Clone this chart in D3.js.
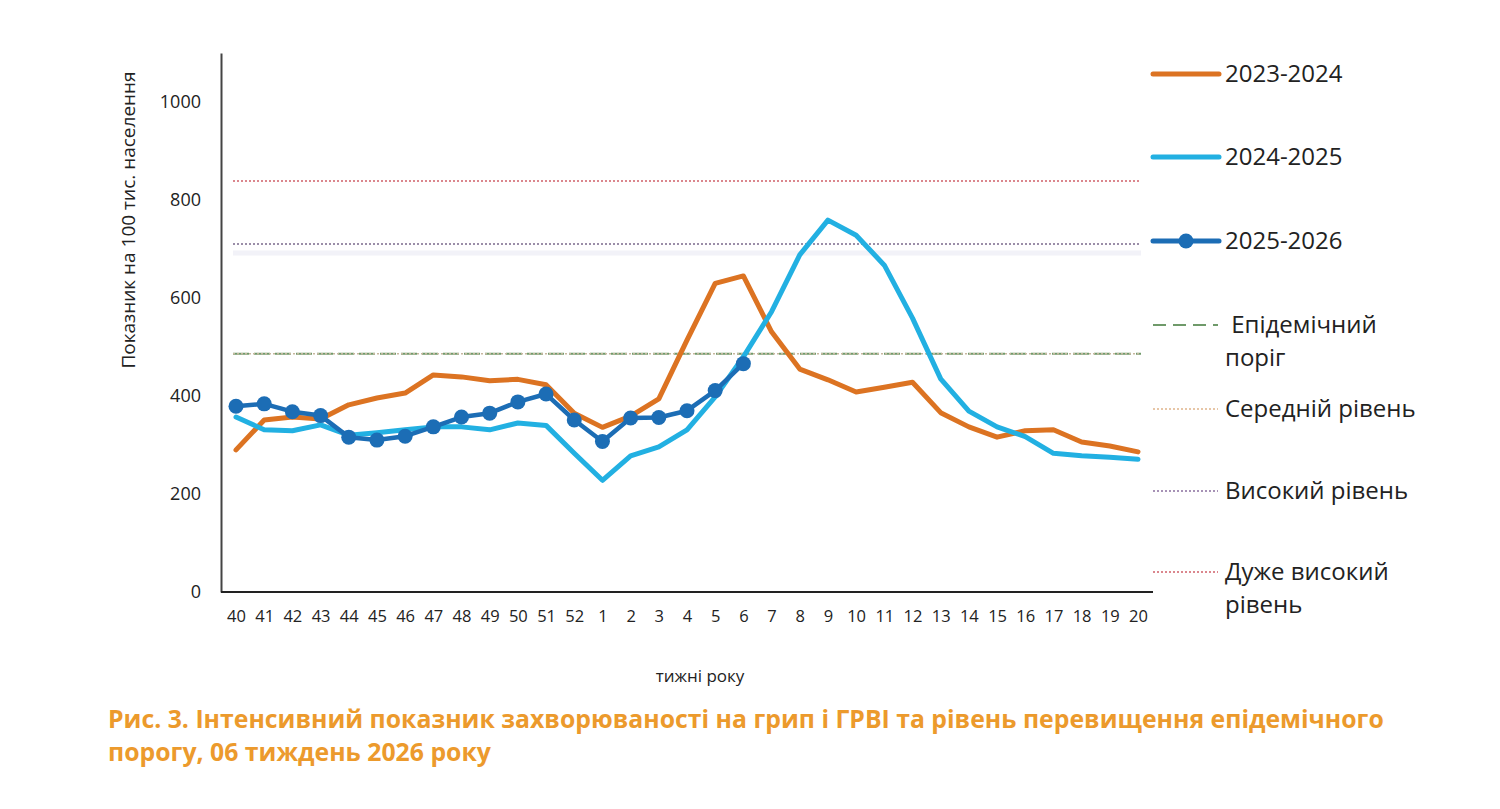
<!DOCTYPE html>
<html>
<head>
<meta charset="utf-8">
<script src="https://cdn.jsdelivr.net/npm/d3@7"></script>
<style>
  body { margin: 0; background: #fff; }
  svg { display: block; font-family: "Open Sans", "Noto Sans", sans-serif; }
</style>
</head>
<body>
<svg width="1500" height="809"></svg>
<script>
// weeks of the season
var weeks = ["40","41","42","43","44","45","46","47","48","49","50","51","52",
  "1","2","3","4","5","6","7","8","9","10","11","12","13","14","15","16","17","18","19","20"];

var s2023 = [290,351,357,353,382,396,406,443,439,431,434,423,365,336,359,394,514,630,645,531,455,433,408,418,428,366,337,316,329,331,306,298,286];
var s2024 = [357,331,329,341,320,325,331,337,337,331,345,340,283,228,278,296,331,398,480,572,688,759,728,667,559,435,369,337,317,283,278,275,271];
var s2025 = [379,384,368,360,316,310,318,337,357,365,388,404,351,307,355,356,370,411,466];

var yTicks = [0,200,400,600,800,1000];

// threshold levels
var levelEpid = 486;
var levelMid = 486;
var levelHigh = 710;
var levelVeryHigh = 839;

window.onload = function() {
  var svg = d3.select("svg");

  var x = d3.scalePoint().domain(weeks).range([236, 1138]);
  var y = d3.scaleLinear().domain([0, 1100]).range([592, 53]);

  // y axis
  var yAxis = svg.append("g")
    .attr("transform", "translate(221,0)")
    .call(d3.axisLeft(y).tickValues(yTicks).tickFormat(d3.format("d"))
      .tickSize(0).tickSizeOuter(0).tickPadding(20));
  yAxis.select(".domain").attr("stroke", "#444").attr("stroke-width", 2);
  yAxis.selectAll("text").attr("font-size", 18).attr("fill", "#222")
    .attr("font-family", "Open Sans, sans-serif");

  // x axis
  var xAxis = svg.append("g")
    .attr("transform", "translate(0,592)")
    .call(d3.axisBottom(x).tickSize(0).tickPadding(18));
  xAxis.select(".domain").remove();
  xAxis.selectAll("text").attr("font-size", 16.5).attr("fill", "#222")
    .attr("font-family", "Open Sans, sans-serif");
  svg.append("line")
    .attr("x1", 221).attr("x2", 1153)
    .attr("y1", 592).attr("y2", 592)
    .attr("stroke", "#222").attr("stroke-width", 2);

  // axis titles
  svg.append("text")
    .attr("transform", "translate(135," + 220 + ") rotate(-90)")
    .attr("text-anchor", "middle")
    .attr("font-size", 19).attr("fill", "#222")
    .text("Показник на 100 тис. населення");

  svg.append("text")
    .attr("x", 700).attr("y", 682)
    .attr("text-anchor", "middle")
    .attr("font-size", 17).attr("fill", "#222")
    .text("тижні року");

  // level lines
  var lx1 = 233, lx2 = 1141;
  svg.append("line")
    .attr("x1", lx1).attr("x2", lx2)
    .attr("y1", y(levelHigh) + 9).attr("y2", y(levelHigh) + 9)
    .attr("stroke", "#f2f2f8").attr("stroke-width", 5);
  var levels = [
    {v: levelEpid, color: "#6f9a6a", dash: "16,5", w: 2},
    {v: levelMid, color: "#c8b7a0", dash: "2,2", w: 1.5},
    {v: levelHigh, color: "#7b6a8c", dash: "2,2", w: 1.5},
    {v: levelVeryHigh, color: "#d0606a", dash: "2,2", w: 1.5}
  ];
  svg.append("g").selectAll("line")
    .data(levels)
    .enter().append("line")
    .attr("x1", lx1).attr("x2", lx2)
    .attr("y1", function(d) { return y(d.v); })
    .attr("y2", function(d) { return y(d.v); })
    .attr("stroke", function(d) { return d.color; })
    .attr("stroke-width", function(d) { return d.w; })
    .attr("stroke-dasharray", function(d) { return d.dash; });

  // series lines
  var line = d3.line()
    .x(function(d, i) { return x(weeks[i]); })
    .y(function(d) { return y(d); });

  var series = [
    {name: "2023-2024", values: s2023, color: "#dc7322", w: 5},
    {name: "2024-2025", values: s2024, color: "#22b0e2", w: 5},
    {name: "2025-2026", values: s2025, color: "#1c6db5", w: 4.5}
  ];

  svg.append("g").selectAll("path")
    .data(series)
    .enter().append("path")
    .attr("d", function(d) { return line(d.values); })
    .attr("fill", "none")
    .attr("stroke", function(d) { return d.color; })
    .attr("stroke-width", function(d) { return d.w; })
    .attr("stroke-linejoin", "round")
    .attr("stroke-linecap", "round");

  svg.append("g").selectAll("circle")
    .data(s2025)
    .enter().append("circle")
    .attr("cx", function(d, i) { return x(weeks[i]); })
    .attr("cy", function(d) { return y(d); })
    .attr("r", 7.5)
    .attr("fill", "#1c6db5");

  // legend
  var lg = svg.append("g").attr("font-size", 24).attr("fill", "#222");
  var legSeries = [
    {label: "2023-2024", color: "#dc7322", y: 74},
    {label: "2024-2025", color: "#22b0e2", y: 157},
    {label: "2025-2026", color: "#1c6db5", y: 241, marker: true}
  ];
  legSeries.forEach(function(d) {
    lg.append("line")
      .attr("x1", 1153).attr("x2", 1219)
      .attr("y1", d.y).attr("y2", d.y)
      .attr("stroke", d.color).attr("stroke-width", 5)
      .attr("stroke-linecap", "round");
    if (d.marker) {
      lg.append("circle").attr("cx", 1186).attr("cy", d.y).attr("r", 7.5).attr("fill", d.color);
    }
    lg.append("text").attr("x", 1225).attr("y", d.y).attr("dy", "0.35em").text(d.label);
  });

  var legLevels = [
    {lines: [" Епідемічний", "поріг"], color: "#6f9a6a", dash: "13,7", w: 2, y: 325},
    {lines: ["Середній рівень"], color: "#e0b48a", dash: "2,2", w: 1.5, y: 409},
    {lines: ["Високий рівень"], color: "#8a6f9e", dash: "2,2", w: 1.5, y: 491},
    {lines: ["Дуже високий", "рівень"], color: "#d0606a", dash: "2,2", w: 1.5, y: 572}
  ];
  legLevels.forEach(function(d) {
    lg.append("line")
      .attr("x1", 1153).attr("x2", 1218)
      .attr("y1", d.y).attr("y2", d.y)
      .attr("stroke", d.color).attr("stroke-width", d.w)
      .attr("stroke-dasharray", d.dash);
    d.lines.forEach(function(t, i) {
      lg.append("text").attr("x", 1225).attr("y", d.y + i * 33)
        .attr("dy", "0.35em").attr("xml:space", "preserve").text(t);
    });
  });

  // caption
  var caption = ["Рис. 3. Інтенсивний показник захворюваності на грип і ГРВІ та рівень перевищення епідемічного",
    "порогу, 06 тиждень 2026 року"];
  svg.append("g").selectAll("text")
    .data(caption)
    .enter().append("text")
    .attr("x", 108)
    .attr("y", function(d, i) { return 728 + i * 33; })
    .attr("font-size", 24.8).attr("font-weight", "bold")
    .attr("fill", "#ec9a2c")
    .text(function(d) { return d; });
};
</script>
</body>
</html>
